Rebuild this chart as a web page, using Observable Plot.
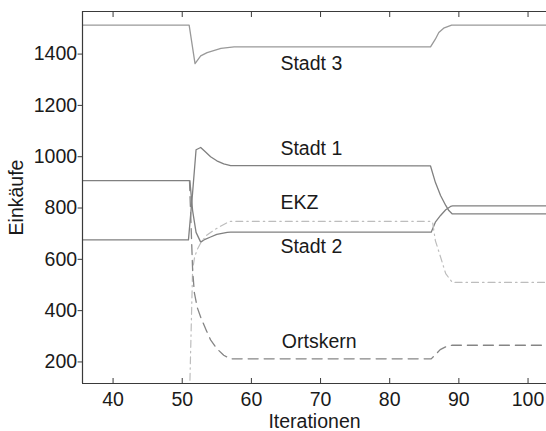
<!DOCTYPE html>
<html><head><meta charset="utf-8">
<script src="https://cdn.jsdelivr.net/npm/d3@7"></script>
<script src="https://cdn.jsdelivr.net/npm/@observablehq/plot@0.6"></script>
<style>html,body{margin:0;padding:0;background:#fff;} svg{display:block}</style>
</head><body><div id="chart"></div>
<script>
// Axis domains and ticks
const xDomain = [35.58, 102.67];
const yDomain = [116, 1566];
const xTicks = [40, 50, 60, 70, 80, 90, 100];
const yTicks = [200, 400, 600, 800, 1000, 1200, 1400];

// Series: [Iteration, Einkäufe]
const stadt3 = [[30,1513],[51,1513],[51.85,1363],[52.67,1393],[53.6,1406],[55.6,1422],[57.5,1428],[85.9,1428],[86.6,1458],[87.1,1484],[87.8,1501],[88.95,1513],[110,1513]];
const stadt1 = [[30,676],[50.9,676],[51.5,860],[52,1027],[52.67,1036],[53.3,1020],[54.1,1000],[55,984],[56,972],[57,965],[85.9,964],[86.6,900],[87.35,849],[88.1,810],[88.55,790],[89.05,777],[110,777]];
const stadt2 = [[30,907],[51.1,907],[51.5,790],[52,705],[52.67,667],[53.3,678],[54.1,687],[55,697],[56.5,705],[57,706],[86,706],[86.6,745],[87.35,771],[88.1,793],[88.8,806],[89.1,808],[110,808]];
const ekz = [[51,0],[51.5,560],[51.8,610],[52.2,640],[52.7,665],[53.5,693],[54.6,714],[55.6,730],[56.5,743],[57,748],[86,748],[86.2,745],[86.6,673],[87.35,609],[88.1,544],[89.05,510],[110,510]];
const ortskern = [[51.05,907],[51.5,560],[51.75,470],[52.2,410],[52.7,372],[53.5,322],[54.1,286],[55,252],[56,226],[57,212],[86,212],[86.6,228],[87.3,248],[88.1,259],[89,265],[110,265]];

// Series labels (placed in data units)
const labelNames = ["Stadt 3", "Stadt 1", "EKZ", "Stadt 2", "Ortskern"];
const labelX = [64.2, 64.2, 64.2, 64.2, 64.4];
const labelY = [1361, 1031, 820, 650, 277];
const labels = labelNames.map((t, i) => ({t, x: labelX[i], y: labelY[i]}));

const ink = "#1a1a1a";
const axisColor = "#3a3a3a";
const fmt = d3.format("d");

const chart = Plot.plot({
  width: 546,
  height: 431,
  marginLeft: 82,
  marginRight: 0,
  marginTop: 11,
  marginBottom: 48,
  x: {domain: xDomain},
  y: {domain: yDomain},
  style: {fontFamily: "'Liberation Sans', Arial, sans-serif", fontSize: "19.5px", color: ink, background: "#fff", overflow: "visible"},
  marks: [
    Plot.line(stadt3, {x: d => d[0], y: d => d[1], stroke: "#999", strokeWidth: 1.3, clip: true}),
    Plot.line(stadt1, {x: d => d[0], y: d => d[1], stroke: "#808080", strokeWidth: 1.3, clip: true}),
    Plot.line(stadt2, {x: d => d[0], y: d => d[1], stroke: "#808080", strokeWidth: 1.3, clip: true}),
    Plot.line(ekz, {x: d => d[0], y: d => d[1], stroke: "#bdbdbd", strokeWidth: 1.2, strokeDasharray: "7,4,1.5,4", clip: true}),
    Plot.line(ortskern, {x: d => d[0], y: d => d[1], stroke: "#858585", strokeWidth: 1.3, strokeDasharray: "10,6", clip: true}),
    Plot.text(labels, {x: "x", y: "y", text: "t", textAnchor: "start", lineAnchor: "middle", fill: ink, fontSize: 19.5}),
    // frame (left, top, bottom)
    Plot.ruleY(yDomain, {stroke: axisColor, strokeWidth: 1.2}),
    Plot.ruleX([xDomain[0]], {stroke: axisColor, strokeWidth: 1.2}),
    // x ticks (inward) bottom and top
    Plot.axisX({ticks: xTicks, anchor: "bottom", tickSize: -5, tickFormat: () => "", label: null, stroke: axisColor}),
    Plot.axisX({ticks: xTicks, anchor: "top", tickSize: -5, tickFormat: () => "", label: null, stroke: axisColor}),
    // x labels
    Plot.axisX({ticks: xTicks, anchor: "bottom", tickSize: 0, tickPadding: 9, tickFormat: fmt, label: "Iterationen", labelAnchor: "center", labelArrow: "none", labelOffset: 44, fill: ink}),
    // y axis
    Plot.axisY({ticks: yTicks, anchor: "left", tickSize: 4.4, tickPadding: 1, tickFormat: fmt, label: "Einkäufe", labelAnchor: "center", labelArrow: "none", labelOffset: 73.5, stroke: axisColor, fill: ink})
  ]
});
document.getElementById("chart").appendChild(chart);
</script>
</body></html>
